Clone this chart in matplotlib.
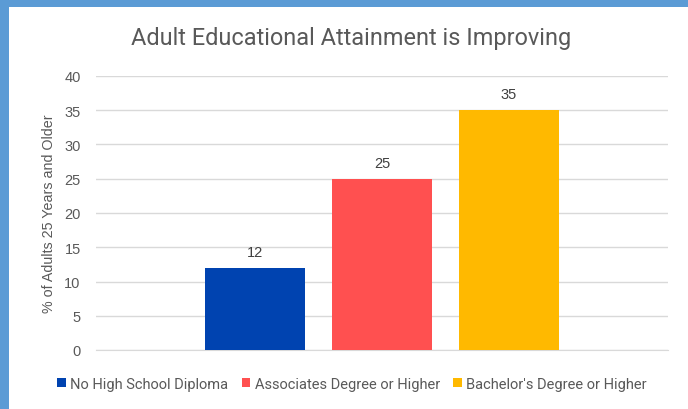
import numpy as np
import matplotlib.pyplot as plt
from matplotlib.patches import Rectangle

series = ['No High School Diploma', 'Associates Degree or Higher', "Bachelor's Degree or Higher"]
values = [12, 25, 35]
colors = ['#0043B0', '#FF5050', '#FFB900']
yticks = [0, 5, 10, 15, 20, 25, 30, 35, 40]

fig = plt.figure(figsize=(6.88, 4.10), dpi=100)
fig.patch.set_facecolor('#5B9BD5')
# white card inside the blue frame (frame only on left and top)
fig.patches.append(Rectangle((9 / 688, 0), 1, 1 - 8 / 410, transform=fig.transFigure,
                             facecolor='white', edgecolor='none', zorder=-1))

ax = fig.add_axes([96 / 688, 1 - 351 / 410, 572 / 688, 274 / 410])
ax.set_facecolor('none')
ax.set_zorder(2)

narrow = ['Liberation Sans Narrow', 'Roboto', 'DejaVu Sans']
gray = '#595959'

width = 0.175
step = 0.222
x = (np.arange(len(values)) - 1) * step
bars = ax.bar(x, values, width=width, color=colors, label=series, zorder=3)
for b, v in zip(bars, values):
    ax.text(b.get_x() + b.get_width() / 2, v + 1.3, str(v), ha='center', va='bottom',
            fontsize=10.5, color='#404040', family='Liberation Sans')

ax.set_xlim(-0.5, 0.5)
ax.set_ylim(0, 40)
ax.set_yticks(yticks)
ax.set_yticklabels([str(t) for t in yticks], fontsize=10.5, color=gray, family='Liberation Sans')
ax.set_xticks([])
ax.tick_params(axis='y', length=0, pad=11)
ax.grid(axis='y', color='#D9D9D9', linewidth=1, zorder=0)
for s in ['top', 'right', 'left']:
    ax.spines[s].set_visible(False)
ax.spines['bottom'].set_color('#D9D9D9')
ax.set_ylabel('% of Adults 25 Years and Older', fontsize=10.3, color=gray,
              family='Liberation Sans', labelpad=6)

fig.text(351 / 688, 1 - 38 / 410, 'Adult Educational Attainment is Improving', ha='center',
         va='center', fontsize=16.9, color=gray, family=narrow)

fig.legend(handles=bars, labels=series, loc='center', bbox_to_anchor=(352 / 688, 1 - 385 / 410),
           ncol=3, frameon=False, handlelength=0.6, handleheight=0.6, handletextpad=0.3,
           columnspacing=0.9, prop={'family': narrow, 'size': 10.5}, labelcolor=gray)

fig.savefig('out.png', dpi=100)
